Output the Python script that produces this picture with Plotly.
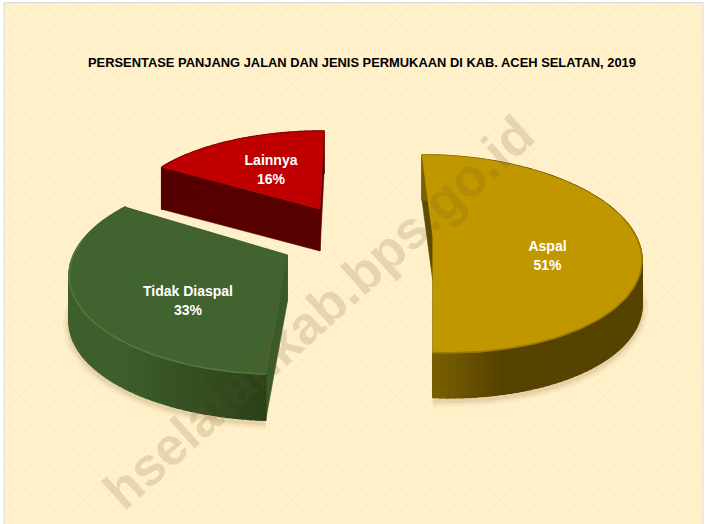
import numpy as np
import plotly.graph_objects as go

CATEGORIES = ["Aspal", "Tidak Diaspal", "Lainnya"]
PERCENT = [51, 33, 16]
TITLE = "PERSENTASE PANJANG JALAN DAN JENIS PERMUKAAN DI KAB. ACEH SELATAN, 2019"
WATERMARK = "hselatankab.bps.go.id"

# projection / style of each exploded slice
STYLE = [
    dict(cx=432.8, cy=236, a=203, b=95.8, k=.18, s=-12.8, d=45, top="#C19700", radial="#5E4A00",
         wall=("#7C6200", "#574300"), edge="#9C7B00", lab=(547.5, 257)),
    dict(cx=287.5, cy=255, a=214, b=98, k=.18, s=4.5, d=46, top="#416330", radial="#3B5A29",
         wall=("#2B4219", "#3F5F2D"), edge="#55783F", lab=(188, 302)),
    dict(cx=320, cy=209, a=190, b=78, k=0, s=4, d=42, top="#C00000", radial="#560000",
         wall=("#560000", "#560000"), edge="#C00000", lab=(271, 171)),
]


def project(st, th):
    u, v = np.sin(th), np.cos(th)
    w = 1 + st["k"] * v
    return st["cx"] + (st["a"] * u + st["s"] * v) / w, st["cy"] - st["b"] * v / w


def mix(c1, c2, t):
    a = [int(c1[i:i + 2], 16) for i in (1, 3, 5)]
    b = [int(c2[i:i + 2], 16) for i in (1, 3, 5)]
    return "rgb(%d,%d,%d)" % tuple(round(p + (q - p) * t) for p, q in zip(a, b))


def poly(x, y, color, width=1.6):
    return go.Scatter(x=list(x), y=list(y), mode="lines", fill="toself", fillcolor=color,
                      line=dict(color=color, width=width), hoverinfo="skip", showlegend=False)


fig = go.Figure()
# panel with woven texture
fig.add_trace(go.Scatter(
    x=[4, 703, 703, 4, 4], y=[2.5, 2.5, 530, 530, 2.5], mode="lines", fill="toself",
    fillcolor="#FFF1CC", line=dict(color="#DADADA", width=1),
    fillpattern=dict(shape="x", size=7, solidity=.12, fgcolor="#FBE6B4", bgcolor="#FFF1CB", fillmode="replace"),
    hoverinfo="skip", showlegend=False))

cum = np.cumsum([0] + PERCENT) / sum(PERCENT) * 2 * np.pi
for i, st in enumerate(STYLE):
    th = np.linspace(cum[i], cum[i + 1], 110 if i == 0 else 70)
    ax, ay = project(st, th)
    # soft cast shadow under the extruded base
    front = np.cos(th) < .2
    for w, al in ((13, .05), (8, .07), (4, .09)):
        fig.add_trace(go.Scatter(x=ax[front], y=ay[front] + st["d"] + 3, mode="lines",
                                 line=dict(color=f"rgba(130,105,40,{al})", width=w),
                                 hoverinfo="skip", showlegend=False))
    # radial faces
    for x0, y0 in ((ax[0], ay[0]), (ax[-1], ay[-1])):
        fig.add_trace(poly([x0, st["cx"], st["cx"], x0, x0],
                           [y0, st["cy"], st["cy"] + st["d"], y0 + st["d"], y0], st["radial"], .6))
    # outer wall, banded to give the shaded gradient
    for j in range(len(th) - 1):
        if i == 0:
            t = min(1, max(0, (ax[j] - 432) / 70))
        else:
            t = min(1, max(0, (265 - ax[j]) / 150))
        c = mix(st["wall"][0], st["wall"][1], t)
        fig.add_trace(poly([ax[j], ax[j + 1], ax[j + 1], ax[j], ax[j]],
                           [ay[j], ay[j + 1], ay[j + 1] + st["d"], ay[j] + st["d"], ay[j]], c))
    # top face
    fig.add_trace(poly([st["cx"]] + list(ax) + [st["cx"]], [st["cy"]] + list(ay) + [st["cy"]], st["top"], .6))
    # bevel along the front rim
    fig.add_trace(go.Scatter(x=ax[front], y=ay[front], mode="lines", line=dict(color=st["edge"], width=1.6),
                             hoverinfo="skip", showlegend=False))

# data labels
fig.add_trace(go.Scatter(
    x=[s["lab"][0] for s in STYLE], y=[s["lab"][1] for s in STYLE], mode="text",
    text=[f"{c}<br>{p}%" for c, p in zip(CATEGORIES, PERCENT)],
    textfont=dict(family="Liberation Sans", size=14, color="#FFFFFF", weight="bold"),
    hoverinfo="skip", showlegend=False))

fig.update_layout(
    width=708, height=524, margin=dict(l=0, r=0, t=0, b=0),
    paper_bgcolor="#FFFFFF", plot_bgcolor="rgba(0,0,0,0)", showlegend=False,
    xaxis=dict(range=[0, 708], visible=False, fixedrange=True),
    yaxis=dict(range=[524, 0], visible=False, fixedrange=True),
    annotations=[
        dict(text=TITLE, x=362, y=62.5, xref="x", yref="y", showarrow=False,
             font=dict(family="Liberation Sans", size=12.9, color="#000000", weight="bold")),
        dict(text=WATERMARK, x=318, y=312, xref="x", yref="y", showarrow=False, textangle=-42,
             font=dict(family="Liberation Sans", size=53, color="rgba(105,85,40,0.17)", weight="bold")),
    ],
)
fig.write_html("out.html", config=dict(displayModeBar=False),
               post_script="document.body.style.margin='0';document.body.style.overflow='hidden';")
